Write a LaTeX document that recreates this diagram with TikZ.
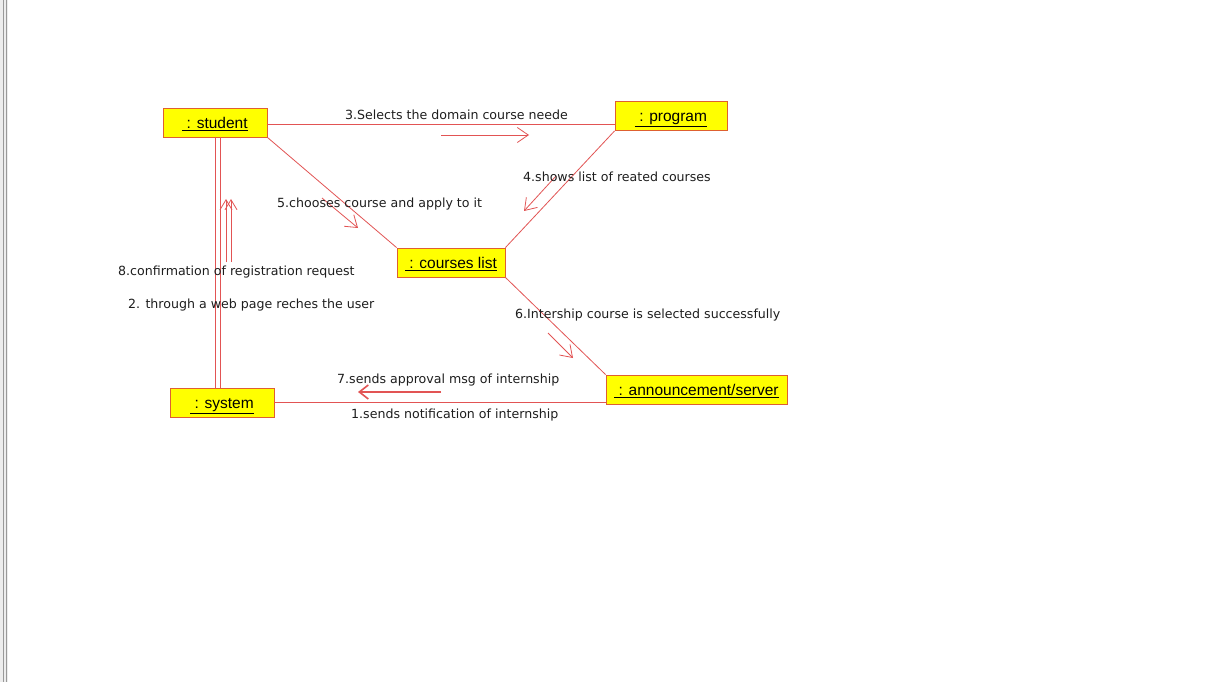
\documentclass[tikz,border=0pt]{standalone}
\usepackage{fontspec}
\setmainfont{DejaVu Sans}
\newfontfamily\boxfont{Liberation Sans}
\usetikzlibrary{arrows.meta}
\definecolor{linkred}{RGB}{226,84,84}
\definecolor{boxedge}{RGB}{222,96,48}
\definecolor{boxfill}{RGB}{255,255,0}
\definecolor{msgtext}{RGB}{30,30,30}
\newcommand{\objname}[1]{\underline{\ : #1}}
\begin{document}
\begin{tikzpicture}[x=1pt,y=-1pt,
  obj/.style={draw=boxedge,fill=boxfill,line width=0.9pt,inner sep=0pt,
    minimum height=29pt,text height=13pt,text depth=1pt,
    font=\boxfont\fontsize{15.5}{18}\selectfont},
  link/.style={draw=linkred,line width=0.8pt},
  msg/.style={draw=linkred,line width=0.8pt,-{Straight Barb[length=11pt,width=15pt,line width=0.8pt]}},
  boldmsg/.style={draw=linkred,line width=2pt,-{Straight Barb[length=9pt,width=14pt,line width=1.6pt]}},
  upmsg/.style={draw=linkred,line width=0.8pt,-{Straight Barb[length=10pt,width=12pt,line width=0.8pt]}},
  lbl/.style={anchor=west,inner sep=0pt,text=msgtext,font=\fontsize{12.6}{15}\selectfont}]
% page frame
\useasboundingbox (0,0) rectangle (1211,682);
\fill[white] (0,0) rectangle (1211,682);
\fill[gray!14] (0,0) rectangle (8,682);
\draw[gray!80,line width=1pt] (3.6,0) -- (3.6,682);
\draw[gray!80,line width=1pt] (6.6,0) -- (6.6,682);

% objects
\node[obj,minimum width=104pt] (student) at (215,122.5) {\objname{student}};
\node[obj,minimum width=112pt] (program) at (671,116) {\objname{program}};
\node[obj,minimum width=108pt] (clist) at (451,262.5) {\objname{courses list}};
\node[obj,minimum width=181pt] (announce) at (696.5,389.5) {\objname{announcement/server}};
\node[obj,minimum width=104pt] (system) at (222,402.5) {\objname{system}};

% links
\draw[link] ([yshift=-1.5pt]student.east) -- ([yshift=-1.5pt]program.west |- student.east);
\draw[link] (program.south west) -- (clist.north east);
\draw[link] (student.south east) -- (clist.north west);
\draw[link] (clist.south east) -- (announce.north west);
\draw[link] (student.south) -- (student.south |- system.north);
\draw[link] ([xshift=5pt]student.south) -- ([xshift=5pt]student.south |- system.north);
\draw[link,line width=1.6pt] (system.east) -- (announce.south west |- system.east);

% message arrows
\coordinate (m3a) at (441,135);  \coordinate (m3b) at (529,135);
\coordinate (m4a) at (556,176);  \coordinate (m4b) at (524,211);
\coordinate (m5a) at (322,198);  \coordinate (m5b) at (358,228);
\coordinate (m6a) at (548,333);  \coordinate (m6b) at (573,358);
\coordinate (m7a) at (441,392);  \coordinate (m7b) at (358,392);
\coordinate (m8a) at (226,262);  \coordinate (m8b) at (226,199);
\coordinate (m2a) at (231,262);  \coordinate (m2b) at (231,199);
\draw[msg] (m3a) -- (m3b);
\draw[msg] (m4a) -- (m4b);
\draw[msg] (m5a) -- (m5b);
\draw[msg] (m6a) -- (m6b);
\draw[boldmsg] (m7a) -- (m7b);
\draw[upmsg] (m8a) -- (m8b);
\draw[upmsg] (m2a) -- (m2b);

% message labels
\node[lbl] (t3) at (345,115) {3.Selects the domain course neede};
\node[lbl] (t4) at (523,177) {4.shows list of reated courses};
\node[lbl] (t5) at (277,204) {5.chooses course and apply to it};
\node[lbl] (t8) at (118,272) {8.confirmation of registration request};
\node[lbl] (t2) at (128,305) {2. through a web page reches the user};
\node[lbl] (t6) at (515,315) {6.Intership course is selected successfully};
\node[lbl] (t7) at (337,380) {7.sends approval msg of internship};
\node[lbl] (t1) at (351,415) {1.sends notification of internship};
\end{tikzpicture}
\end{document}
